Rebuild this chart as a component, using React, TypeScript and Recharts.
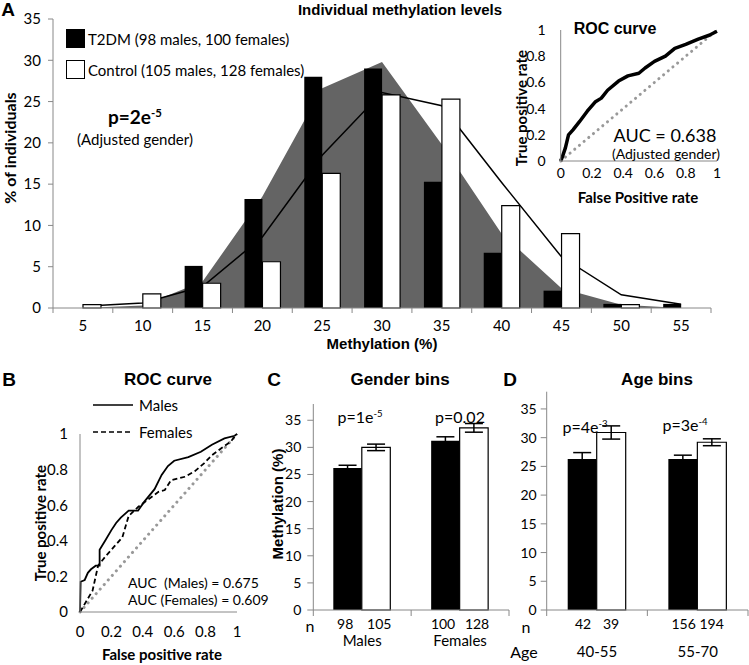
import React from 'react'
import { Area, Bar, BarChart, ComposedChart, ErrorBar, Legend, Line, LineChart, XAxis, YAxis } from 'recharts'

// panel A - % of individuals per methylation bin
const bins = ['5', '10', '15', '20', '25', '30', '35', '40', '45', '50', '55']
const t2dmPct = [0, 0, 5.1, 13.2, 28.0, 29.0, 15.3, 6.7, 2.1, 0.5, 0.5]
const controlPct = [0.4, 1.7, 3.0, 5.6, 16.3, 25.8, 25.3, 12.4, 9.0, 0.4, 0]
const t2dmCurve = [0, 0.3, 3.2, 13.5, 26.6, 29.8, 19.8, 9.0, 2.4, 0.4, 0]
const controlCurve = [0.2, 0.6, 2.6, 8.6, 18.5, 26.1, 24.5, 15.2, 6.2, 1.6, 0.45]
const pctTicks = [0, 5, 10, 15, 20, 25, 30, 35]
const histLegendKeys = ['t2dm', 'control']

// inset ROC (adjusted gender)
const rocFpr = [0, 0.01, 0.03, 0.05, 0.08, 0.12, 0.17, 0.22, 0.26, 0.3, 0.37, 0.43, 0.5, 0.54, 0.6, 0.67, 0.73, 0.8, 0.88, 0.95, 1]
const rocTpr = [0, 0.03, 0.1, 0.2, 0.24, 0.3, 0.38, 0.45, 0.48, 0.54, 0.61, 0.65, 0.67, 0.71, 0.76, 0.8, 0.86, 0.89, 0.93, 0.96, 0.99]

// panel B - ROC by gender
const malesFpr = [0, 0.004, 0.03, 0.05, 0.07, 0.1, 0.125, 0.125, 0.16, 0.2, 0.23, 0.26, 0.31, 0.37, 0.41, 0.475, 0.52, 0.56, 0.6, 0.69, 0.77, 0.84, 0.92, 0.985, 1]
const malesTpr = [0, 0.17, 0.18, 0.22, 0.24, 0.26, 0.26, 0.35, 0.4, 0.46, 0.5, 0.53, 0.57, 0.57, 0.62, 0.69, 0.77, 0.82, 0.85, 0.87, 0.9, 0.94, 0.975, 0.99, 1]
const femalesFpr = [0, 0.02, 0.05, 0.08, 0.1, 0.115, 0.16, 0.22, 0.27, 0.31, 0.37, 0.43, 0.5, 0.54, 0.58, 0.67, 0.73, 0.79, 0.84, 0.9, 0.96, 0.985, 1]
const femalesTpr = [0, 0.03, 0.075, 0.12, 0.2, 0.26, 0.31, 0.37, 0.42, 0.54, 0.59, 0.63, 0.675, 0.685, 0.74, 0.76, 0.79, 0.835, 0.88, 0.92, 0.957, 0.985, 1]
const diagonal = [0, 1]
const rateTicks = [0, 0.2, 0.4, 0.6, 0.8, 1]
const rocLegendNames = ['Males', 'Females']

// panel C - gender bins
const genderGroups = ['Males', 'Females']
const genderT2dmN = [98, 100]
const genderControlN = [105, 128]
const genderT2dm = [26.2, 31.2]
const genderT2dmErr = [0.5, 0.75]
const genderControl = [30.0, 33.6]
const genderControlErr = [0.6, 0.8]

// panel D - age bins
const ageGroups = ['40-55', '55-70']
const ageT2dmN = [42, 156]
const ageControlN = [39, 194]
const ageT2dm = [26.3, 26.3]
const ageT2dmErr = [1.1, 0.65]
const ageControl = [30.9, 29.2]
const ageControlErr = [1.15, 0.6]
const barTicks = [0, 5, 10, 15, 20, 25, 30, 35]

const CAL = 'Lato, "Open Sans", sans-serif'
const ARIAL = '"Liberation Sans", Arial, sans-serif'
const AXIS = '#888'

const histData = bins.map((b, i) => ({
  bin: b,
  t2dm: t2dmPct[i],
  control: controlPct[i],
  t2dmFit: t2dmCurve[i],
  controlFit: controlCurve[i],
}))
const toPoints = (xs: number[], ys: number[]) => xs.map((x, i) => ({ fpr: x, tpr: ys[i] }))
const rocData = toPoints(rocFpr, rocTpr)
const malesData = toPoints(malesFpr, malesTpr)
const femalesData = toPoints(femalesFpr, femalesTpr)
const diagData = toPoints(diagonal, diagonal)

const genderData = genderGroups.map((g, i) => ({
  group: g,
  nA: genderT2dmN[i],
  nB: genderControlN[i],
  t2dm: genderT2dm[i],
  t2dmErr: genderT2dmErr[i],
  control: genderControl[i],
  controlErr: genderControlErr[i],
}))
const ageData = ageGroups.map((g, i) => ({
  group: g,
  nA: ageT2dmN[i],
  nB: ageControlN[i],
  t2dm: ageT2dm[i],
  t2dmErr: ageT2dmErr[i],
  control: ageControl[i],
  controlErr: ageControlErr[i],
}))

type TxtProps = {
  x: number
  y: number
  size?: number
  bold?: boolean
  family?: string
  anchor?: 'start' | 'middle' | 'end'
  rotate?: boolean
  children: React.ReactNode
}

function Txt({ x, y, size = 15, bold, family = CAL, anchor = 'middle', rotate, children }: TxtProps) {
  const tx = anchor === 'middle' ? '-50%' : anchor === 'end' ? '-100%' : '0'
  return (
    <div
      style={{
        position: 'absolute',
        left: x,
        top: y,
        transform: `translate(${tx}, -50%)${rotate ? ' rotate(-90deg)' : ''}`,
        whiteSpace: 'pre',
        fontSize: size,
        fontWeight: bold ? 700 : 400,
        fontFamily: family,
        lineHeight: 1,
        color: '#000',
      }}
    >
      {children}
    </div>
  )
}

const Sup = ({ children }: { children: React.ReactNode }) => (
  <span style={{ fontSize: '0.6em', position: 'relative', top: '-0.6em' }}>{children}</span>
)

// category tick: label in the middle, tick marks on the bin edges
function BinTick(props: any) {
  const { x, y, payload } = props
  const half = payload?.offset || 29.9
  const last = payload?.value === bins[bins.length - 1]
  return (
    <g>
      <line x1={x - half} x2={x - half} y1={y} y2={y + 5} stroke={AXIS} />
      {last && <line x1={x + half} x2={x + half} y1={y} y2={y + 5} stroke={AXIS} />}
      <text x={x} y={y + 23} textAnchor='middle' fontSize={15} fontFamily={CAL} fill='#000'>
        {payload.value}
      </text>
    </g>
  )
}

function GroupTick(props: any) {
  const { x, y, payload, index, data, spread, nameY, lastName } = props
  const half = payload?.offset || 49
  const row = data.find((d: any) => d.group === payload.value) || data[index]
  return (
    <g fontFamily={CAL} fill='#000'>
      <line x1={x - half} x2={x - half} y1={y} y2={y + 6} stroke={AXIS} />
      {payload.value === lastName && <line x1={x + half} x2={x + half} y1={y} y2={y + 6} stroke={AXIS} />}
      <text x={x - spread} y={y + 19} textAnchor='middle' fontSize={14}>
        {row?.nA}
      </text>
      <text x={x + spread} y={y + 19} textAnchor='middle' fontSize={14}>
        {row?.nB}
      </text>
      <text x={x} y={y + nameY} textAnchor='middle' fontSize={15}>
        {payload.value}
      </text>
    </g>
  )
}

function HistLegend({ payload }: any) {
  const items = (payload || [])
    .filter((p: any) => histLegendKeys.includes(p.dataKey))
    .sort((a: any, b: any) => histLegendKeys.indexOf(a.dataKey) - histLegendKeys.indexOf(b.dataKey))
  return (
    <div style={{ fontFamily: CAL, fontSize: 15 }}>
      {items.map((p: any) => (
        <div key={p.value} style={{ display: 'flex', alignItems: 'center', height: 31 }}>
          <span
            style={{
              width: 17,
              height: 17,
              background: p.dataKey === 't2dm' ? '#000' : '#fff',
              border: '1.5px solid #000',
              marginRight: 3,
              display: 'inline-block',
            }}
          />
          {p.value}
        </div>
      ))}
    </div>
  )
}

function RocLegend({ payload }: any) {
  const items = (payload || [])
    .filter((p: any) => rocLegendNames.includes(p.value))
    .sort((a: any, b: any) => rocLegendNames.indexOf(a.value) - rocLegendNames.indexOf(b.value))
  return (
    <div style={{ fontFamily: CAL, fontSize: 15 }}>
      {items.map((p: any) => (
        <div key={p.value} style={{ display: 'flex', alignItems: 'center', height: 26.5 }}>
          <svg width={42} height={6} style={{ marginRight: 4 }}>
            <line
              x1={0}
              x2={40}
              y1={3}
              y2={3}
              stroke='#000'
              strokeWidth={1.5}
              strokeDasharray={p.value === 'Females' ? '5 3' : undefined}
            />
          </svg>
          {p.value}
        </div>
      ))}
    </div>
  )
}

const tickStyle = (size: number) => ({ fill: '#000', fontSize: size, fontFamily: CAL })

export default function App() {
  return (
    <div
      style={{
        position: 'absolute',
        left: 0,
        top: 0,
        width: 749,
        height: 665,
        overflow: 'hidden',
        background: '#fff',
      }}
    >
      {/* A: histogram */}
      <div style={{ position: 'absolute', left: 0, top: 0 }}>
        <ComposedChart
          width={749}
          height={346}
          data={histData}
          margin={{ top: 19, right: 38, bottom: 0, left: 0 }}
          barGap={0}
          barSize={18}
        >
          <XAxis dataKey='bin' height={38} stroke={AXIS} tickLine={false} tickSize={0} tickMargin={0} interval={0} tick={<BinTick />} />
          <YAxis width={53} domain={[0, 35]} ticks={pctTicks} stroke={AXIS} tickSize={5} tickMargin={7} tick={tickStyle(15)} />
          <Legend
            layout='vertical'
            align='center'
            verticalAlign='middle'
            content={<HistLegend />}
            wrapperStyle={{ left: 66, top: 23, width: 300, height: 62 }}
          />
          <Area
            dataKey='t2dmFit'
            type='linear'
            fill='#646464'
            fillOpacity={1}
            stroke='none'
            legendType='none'
            isAnimationActive={false}
          />
          <Line
            dataKey='controlFit'
            type='linear'
            stroke='#000'
            strokeWidth={1.5}
            dot={false}
            legendType='none'
            zIndex={200}
            isAnimationActive={false}
          />
          <Bar dataKey='t2dm' name='T2DM (98 males, 100 females)' fill='#000' isAnimationActive={false} />
          <Bar
            dataKey='control'
            name='Control (105 males, 128 females)'
            fill='#fff'
            stroke='#000'
            strokeWidth={1.2}
            isAnimationActive={false}
          />
        </ComposedChart>
      </div>

      {/* A inset: ROC */}
      <div style={{ position: 'absolute', left: 500, top: 0 }}>
        <LineChart width={249} height={210} margin={{ top: 30, right: 32, bottom: 29, left: 0 }}>
          <XAxis
            dataKey='fpr'
            type='number'
            domain={[0, 1]}
            ticks={rateTicks}
            height={20}
            stroke={AXIS}
            tickLine={false}
            tickSize={6}
            tickMargin={1}
            tick={tickStyle(14)}
          />
          <YAxis
            type='number'
            domain={[0, 1]}
            ticks={rateTicks}
            width={60.7}
            stroke={AXIS}
            tickLine={false}
            tickSize={6}
            tickMargin={9}
            tick={tickStyle(14)}
          />
          <Line
            data={diagData}
            dataKey='tpr'
            type='linear'
            stroke='#999'
            strokeWidth={3}
            strokeDasharray='0.1 6'
            strokeLinecap='round'
            dot={false}
            isAnimationActive={false}
          />
          <Line
            data={rocData}
            dataKey='tpr'
            type='linear'
            stroke='#000'
            strokeWidth={3.5}
            strokeLinejoin='round'
            dot={false}
            isAnimationActive={false}
          />
        </LineChart>
      </div>

      {/* B: ROC by gender */}
      <div style={{ position: 'absolute', left: 0, top: 400 }}>
        <LineChart width={250} height={240} margin={{ top: 34, right: 13, bottom: 8, left: 0 }}>
          <XAxis
            dataKey='fpr'
            type='number'
            domain={[0, 1]}
            ticks={rateTicks}
            height={20}
            stroke={AXIS}
            tickLine={false}
            tickSize={6}
            tickMargin={8}
            tick={tickStyle(15)}
          />
          <YAxis
            type='number'
            domain={[0, 1]}
            ticks={rateTicks}
            width={80}
            stroke={AXIS}
            tickLine={false}
            tickSize={6}
            tickMargin={6}
            tick={tickStyle(15)}
          />
          <Legend
            layout='vertical'
            align='center'
            verticalAlign='middle'
            content={<RocLegend />}
            wrapperStyle={{ left: 93, top: -8, width: 150, height: 53 }}
          />
          <Line
            data={diagData}
            dataKey='tpr'
            type='linear'
            stroke='#999'
            strokeWidth={3}
            strokeDasharray='0.1 6'
            strokeLinecap='round'
            dot={false}
            legendType='none'
            isAnimationActive={false}
          />
          <Line
            data={femalesData}
            dataKey='tpr'
            name='Females'
            type='linear'
            stroke='#000'
            strokeWidth={1.8}
            strokeDasharray='5 3'
            dot={false}
            isAnimationActive={false}
          />
          <Line
            data={malesData}
            dataKey='tpr'
            name='Males'
            type='linear'
            stroke='#000'
            strokeWidth={1.8}
            dot={false}
            isAnimationActive={false}
          />
        </LineChart>
      </div>

      {/* C: gender bins */}
      <div style={{ position: 'absolute', left: 250, top: 380 }}>
        <BarChart
          width={261}
          height={285}
          data={genderData}
          margin={{ top: 24, right: 2, bottom: 0, left: 0 }}
          barGap={0}
          barSize={28.5}
        >
          <XAxis
            dataKey='group'
            height={55}
            stroke={AXIS}
            tickLine={false}
            tickSize={0}
            tickMargin={0}
            interval={0}
            tick={<GroupTick data={genderData} spread={17} nameY={36} lastName={genderGroups[genderGroups.length - 1]} />}
          />
          <YAxis width={63.3} domain={[0, 38]} ticks={barTicks} stroke={AXIS} tickSize={6} tickMargin={6} tick={tickStyle(14)} />
          <Bar dataKey='t2dm' fill='#000' isAnimationActive={false}>
            <ErrorBar dataKey='t2dmErr' width={9} stroke='#000' strokeWidth={1.5} />
          </Bar>
          <Bar dataKey='control' fill='#fff' stroke='#000' strokeWidth={1.2} isAnimationActive={false}>
            <ErrorBar dataKey='controlErr' width={9} stroke='#000' strokeWidth={1.5} />
          </Bar>
        </BarChart>
      </div>

      {/* D: age bins */}
      <div style={{ position: 'absolute', left: 490, top: 380 }}>
        <BarChart
          width={259}
          height={285}
          data={ageData}
          margin={{ top: 11.7, right: 1, bottom: 0, left: 0 }}
          barGap={0}
          barSize={29}
        >
          <XAxis
            dataKey='group'
            height={55}
            stroke={AXIS}
            tickLine={false}
            tickSize={0}
            tickMargin={0}
            interval={0}
            tick={<GroupTick data={ageData} spread={14} nameY={47} lastName={ageGroups[ageGroups.length - 1]} />}
          />
          <YAxis width={56.7} domain={[0, 38]} ticks={barTicks} stroke={AXIS} tickSize={6} tickMargin={4} tick={tickStyle(14)} />
          <Bar dataKey='t2dm' fill='#000' isAnimationActive={false}>
            <ErrorBar dataKey='t2dmErr' width={9} stroke='#000' strokeWidth={1.5} />
          </Bar>
          <Bar dataKey='control' fill='#fff' stroke='#000' strokeWidth={1.2} isAnimationActive={false}>
            <ErrorBar dataKey='controlErr' width={9} stroke='#000' strokeWidth={1.5} />
          </Bar>
        </BarChart>
      </div>

      {/* labels for A */}
      <Txt x={8} y={9} size={19} bold family={ARIAL}>A</Txt>
      <Txt x={400} y={9} size={15} bold family={ARIAL}>Individual methylation levels</Txt>
      <Txt x={10} y={148} size={16} bold rotate>% of individuals</Txt>
      <Txt x={108} y={116} size={19} bold anchor='start'>
        p=2e<Sup>-5</Sup>
      </Txt>
      <Txt x={135} y={139} size={15}>(Adjusted gender)</Txt>
      <Txt x={382} y={343} size={15} bold family={ARIAL}>Methylation (%)</Txt>

      {/* labels for inset */}
      <Txt x={615} y={29} size={16} bold family={ARIAL}>ROC curve</Txt>
      <Txt x={521} y={108} size={15} bold rotate>True positive rate</Txt>
      <Txt x={638} y={197} size={15} bold>False Positive rate</Txt>
      <Txt x={665} y={135} size={18}>AUC = 0.638</Txt>
      <Txt x={666} y={154} size={14}>(Adjusted gender)</Txt>

      {/* labels for B */}
      <Txt x={9} y={379} size={19} bold family={ARIAL}>B</Txt>
      <Txt x={168} y={379} size={17} bold family={ARIAL}>ROC curve</Txt>
      <Txt x={40} y={523} size={15} bold rotate>True positive rate</Txt>
      <Txt x={162} y={654} size={15} bold>False positive rate</Txt>
      <Txt x={128} y={583} size={14} anchor='start'>AUC  (Males) = 0.675</Txt>
      <Txt x={128} y={600} size={14} anchor='start'>AUC (Females) = 0.609</Txt>

      {/* labels for C */}
      <Txt x={274} y={379} size={19} bold family={ARIAL}>C</Txt>
      <Txt x={400} y={379} size={17} bold family={ARIAL}>Gender bins</Txt>
      <Txt x={277} y={504} size={15} bold family={ARIAL} rotate>Methylation (%)</Txt>
      <Txt x={360} y={417} size={16}>
        p=1e<Sup>-5</Sup>
      </Txt>
      <Txt x={460} y={417} size={16}>p=0.02</Txt>
      <Txt x={310} y={626} size={16}>n</Txt>

      {/* labels for D */}
      <Txt x={510} y={379} size={19} bold family={ARIAL}>D</Txt>
      <Txt x={657} y={379} size={17} bold family={ARIAL}>Age bins</Txt>
      <Txt x={585} y={427} size={16}>
        p=4e<Sup>-3</Sup>
      </Txt>
      <Txt x={685} y={425} size={16}>
        p=3e<Sup>-4</Sup>
      </Txt>
      <Txt x={526} y={627} size={16}>n</Txt>
      <Txt x={524} y={652} size={16}>Age</Txt>
    </div>
  )
}
